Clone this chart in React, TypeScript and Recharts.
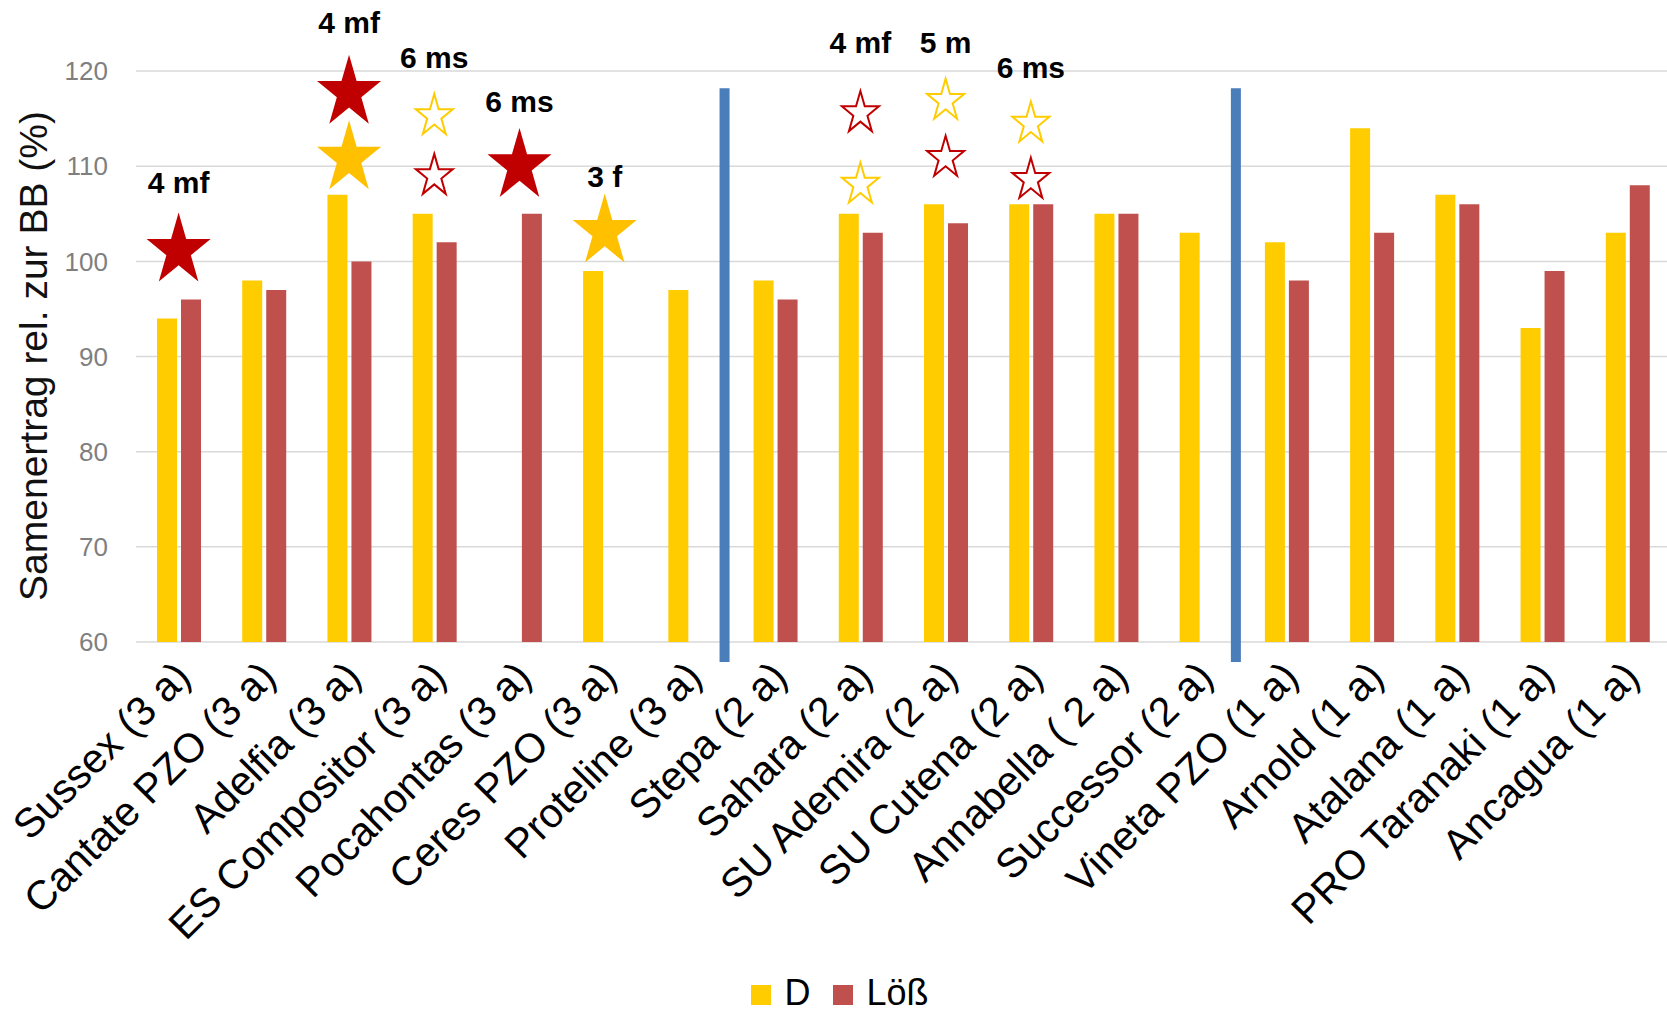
import React from 'react';
import {
  ComposedChart,
  Bar,
  Scatter,
  XAxis,
  YAxis,
  CartesianGrid,
  Legend,
  ReferenceLine,
} from 'recharts';

const categories = [
  'Sussex (3 a)',
  'Cantate PZO (3 a)',
  'Adelfia (3 a)',
  'ES Compositor (3 a)',
  'Pocahontas (3 a)',
  'Ceres PZO (3 a)',
  'Proteline (3 a)',
  'Stepa (2 a)',
  'Sahara (2 a)',
  'SU Ademira (2 a)',
  'SU Cutena (2 a)',
  'Annabella ( 2 a)',
  'Successor (2 a)',
  'Vineta PZO (1 a)',
  'Arnold (1 a)',
  'Atalana (1 a)',
  'PRO Taranaki (1 a)',
  'Ancagua (1 a)',
];

const dValues = [94, 98, 107, 105, null, 99, 97, 98, 105, 106, 106, 105, 103, 102, 114, 107, 93, 103];
const loessValues = [96, 97, 100, 102, 105, null, null, 96, 103, 104, 106, 105, null, 98, 103, 106, 99, 108];

// star markers above the bars (y level on the value axis)
const redFilledStar = [101.5, null, 118.1, null, 110.4, null, null, null, null, null, null, null, null, null, null, null, null, null];
const goldFilledStar = [null, null, 111.2, null, null, 103.5, null, null, null, null, null, null, null, null, null, null, null, null];
const yellowHollowStar = [null, null, null, 115.5, null, null, null, null, 108.3, 117.1, 114.7, null, null, null, null, null, null, null];
const redHollowStar = [null, null, null, 109.2, null, null, null, null, 115.8, 111.1, 108.8, null, null, null, null, null, null, null];

const noteText = ['4 mf', '', '4 mf', '6 ms', '6 ms', '3 f', '', '', '4 mf', '5 m', '6 ms', '', '', '', '', '', '', ''];
const noteLevel = [107.2, null, 124.0, 120.3, 115.7, 107.8, null, null, 121.9, 121.9, 119.3, null, null, null, null, null, null, null];

const yTicks = [60, 70, 80, 90, 100, 110, 120];
const dividers = ['Stepa (2 a)', 'Vineta PZO (1 a)'];

const data = categories.map((name, i) => ({
  name,
  D: dValues[i],
  Loess: loessValues[i],
  redFilled: redFilledStar[i],
  goldFilled: goldFilledStar[i],
  yellowHollow: yellowHollowStar[i],
  redHollow: redHollowStar[i],
  note: noteText[i],
  noteY: noteLevel[i],
}));

const FONT = "'Liberation Sans', Arial, Helvetica, sans-serif";
const YELLOW = '#FFCC00';
const RED = '#C0504D';

const starPoints = (cx: number, cy: number, w: number, h: number) => {
  const pts: string[] = [];
  for (let k = 0; k < 10; k++) {
    const a = ((-90 + 36 * k) * Math.PI) / 180;
    const r = k % 2 === 0 ? 1 : 0.382;
    const px = Math.cos(a) * r;
    const py = Math.sin(a) * r;
    pts.push(`${cx + (px * w) / 1.902},${cy + ((py + 0.0955) * h) / 1.809}`);
  }
  return pts.join(' ');
};

const filledStar = (color: string) => (props: any) => {
  const { cx, cy } = props;
  if (cx == null || cy == null || !isFinite(cy)) return <g />;
  return <polygon points={starPoints(cx, cy, 64, 69)} fill={color} />;
};

const hollowStar = (color: string) => (props: any) => {
  const { cx, cy } = props;
  if (cx == null || cy == null || !isFinite(cy)) return <g />;
  return (
    <polygon
      points={starPoints(cx, cy, 37, 40)}
      fill="#fff"
      stroke={color}
      strokeWidth={2}
      strokeLinejoin="miter"
    />
  );
};

const noteShape = (props: any) => {
  const { cx, cy, payload } = props;
  if (cx == null || cy == null || !isFinite(cy)) return <g />;
  return (
    <text x={cx} y={cy} textAnchor="middle" fontFamily={FONT} fontWeight="bold" fontSize={30} fill="#000">
      {payload.note}
    </text>
  );
};

const XTick = (props: any) => {
  const { x, y, payload } = props;
  const tx = x + 14;
  const ty = y + 37;
  return (
    <text
      x={tx}
      y={ty}
      transform={`rotate(-45 ${tx} ${ty})`}
      textAnchor="end"
      fontFamily={FONT}
      fontSize={41}
      fill="#000"
    >
      {payload.value}
    </text>
  );
};

const YTitle = (props: any) => {
  const vb = props.viewBox || { x: 0, y: 14, width: 136, height: 628 };
  const x = vb.x + 33;
  const y = vb.y + vb.height / 2 + 28;
  return (
    <text
      x={x}
      y={y}
      transform={`rotate(-90 ${x} ${y})`}
      textAnchor="middle"
      dominantBaseline="central"
      fontFamily={FONT}
      fontSize={39}
      fill="#111"
    >
      Samenertrag rel. zur BB (%)
    </text>
  );
};

const divider = (props: any) => {
  const { x1, y1, x2, y2 } = props;
  return <line x1={x1 - 8} y1={y1} x2={x2 - 8} y2={y2} stroke="#4A7EBB" strokeWidth={10} />;
};

const renderLegend = (props: any) => {
  const items = (props.payload || []).filter((p: any) => p.type !== 'none');
  return (
    <div
      style={{
        textAlign: 'center',
        fontFamily: FONT,
        fontSize: 36,
        lineHeight: '40px',
        paddingTop: 2,
        color: '#000',
        paddingLeft: 10,
        whiteSpace: 'nowrap',
      }}
    >
      {items.map((p: any, i: number) => (
        <span key={p.value}>
          <span
            style={{
              display: 'inline-block',
              width: 20,
              height: 20,
              background: p.color,
              marginLeft: i === 0 ? 0 : 23,
              marginRight: 13,
            }}
          />
          {p.value}
        </span>
      ))}
    </div>
  );
};

export default function App() {
  return (
    <div style={{ position: 'absolute', left: 0, top: 0, width: 1667, height: 1013, overflow: 'hidden', background: '#fff' }}>
      <ComposedChart
        width={1670}
        height={1013}
        data={data}
        margin={{ top: 14, right: 0, left: 0, bottom: 0 }}
        barGap={4}
      >
        <CartesianGrid horizontal vertical={false} syncWithTicks stroke="#d9d9d9" strokeWidth={1.5} />
        <XAxis
          dataKey="name"
          interval={0}
          tickLine={false}
          axisLine={false}
          tickSize={0}
          tickMargin={0}
          height={329}
          tick={<XTick />}
          allowDuplicatedCategory={false}
        />
        <YAxis
          domain={[60, 126]}
          ticks={yTicks}
          width={136}
          tickLine={false}
          axisLine={false}
          tickSize={0}
          tickMargin={28}
          tick={{ fill: '#7f7f7f', fontSize: 26, fontFamily: FONT }}
          label={{ content: <YTitle /> }}
        />
        <Legend
          verticalAlign="bottom"
          align="center"
          content={renderLegend}
          wrapperStyle={{ height: 42, bottom: 0 }}
        />
        <Bar dataKey="D" name="D" fill={YELLOW} barSize={20} isAnimationActive={false} />
        <Bar dataKey="Loess" name="Löß" fill={RED} barSize={20} isAnimationActive={false} />
        {dividers.map((c) => (
          <ReferenceLine
            key={c}
            segment={[
              { x: c, y: 57.9 },
              { x: c, y: 118.2 },
            ]}
            position="start"
            ifOverflow="visible"
            shape={divider}
          />
        ))}
        <Scatter dataKey="redFilled" shape={filledStar('#C00000')} legendType="none" isAnimationActive={false} />
        <Scatter dataKey="goldFilled" shape={filledStar('#FFC000')} legendType="none" isAnimationActive={false} />
        <Scatter dataKey="yellowHollow" shape={hollowStar('#FFCC00')} legendType="none" isAnimationActive={false} />
        <Scatter dataKey="redHollow" shape={hollowStar('#C00000')} legendType="none" isAnimationActive={false} />
        <Scatter dataKey="noteY" shape={noteShape} legendType="none" isAnimationActive={false} />
      </ComposedChart>
    </div>
  );
}
